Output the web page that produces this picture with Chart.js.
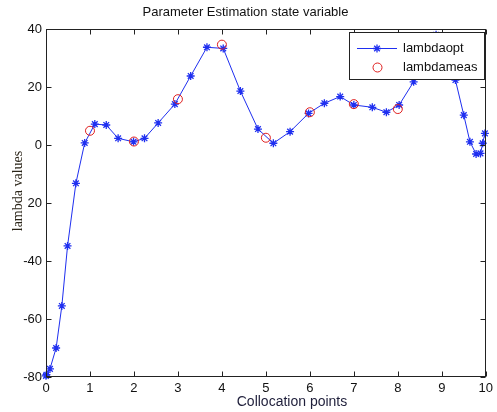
<!DOCTYPE html>
<html>
<head>
<meta charset="utf-8">
<script src="https://cdn.jsdelivr.net/npm/chart.js@4"></script>
<style>
  body { margin: 0; background: #fff; }
  #wrap { width: 497px; height: 412px; }
</style>
</head>
<body>
<div id="wrap"><canvas id="chart"></canvas></div>
<script>
// collocation points and estimated lambda
const optX = [0.0, 0.01, 0.09, 0.23, 0.36, 0.49, 0.68, 0.88, 1.11, 1.37, 1.64, 1.99, 2.24, 2.55, 2.93, 3.29, 3.66, 4.03, 4.42, 4.82, 5.17, 5.55, 5.97, 6.33, 6.69, 7.0, 7.42, 7.74, 8.03, 8.36, 8.87, 9.31, 9.5, 9.64, 9.78, 9.88, 9.93, 9.98];
const optY = [-79.6, -79.2, -77.2, -70, -55.5, -34.8, -13.2, 0.7, 7.2, 6.9, 2.3, 1.1, 2.3, 7.6, 14.1, 23.8, 33.7, 33.3, 18.6, 5.5, 0.6, 4.6, 10.9, 14.4, 16.7, 13.8, 13.0, 11.3, 13.8, 21.8, 38.0, 22.4, 10.3, 1.1, -3.1, -2.9, 0.6, 4.0];

// measured lambda
const measX = [1, 2, 3, 4, 5, 6, 7, 8];
const measY = [4.9, 1.2, 15.8, 34.6, 2.5, 11.3, 14.1, 12.4];

const xTicks = [0, 1, 2, 3, 4, 5, 6, 7, 8, 9, 10];
const yTicks = [-80, -60, -40, -20, 0, 20, 40];
const yTickLabels = ["-80", "-60", "-40", "20", "0", "20", "40"];

const BLUE = "#1f2ff0";
const RED = "#e02020";
const FONT = "'Liberation Sans', Arial, sans-serif";

// white background, box, inward ticks, legend and axis titles
const matlabLook = {
  id: "matlabLook",
  beforeDraw(chart) {
    const c = chart.ctx;
    c.save();
    c.fillStyle = "#fff";
    c.fillRect(0, 0, chart.width, chart.height);
    c.restore();
  },
  afterDraw(chart) {
    const c = chart.ctx;
    const a = chart.chartArea;
    const xs = chart.scales.x, ys = chart.scales.y;
    const L = Math.round(a.left) + 0.5, R = Math.round(a.right) - 0.5;
    const T = Math.round(a.top) + 0.5, B = Math.round(a.bottom) - 0.5;
    c.save();
    c.strokeStyle = "#222";
    c.lineWidth = 1;
    c.strokeRect(L, T, R - L, B - T);
    c.beginPath();
    xTicks.forEach(v => {
      const px = Math.round(xs.getPixelForValue(v)) + 0.5;
      c.moveTo(px, B); c.lineTo(px, B - 5);
      c.moveTo(px, T); c.lineTo(px, T + 5);
    });
    yTicks.forEach(v => {
      const py = Math.round(ys.getPixelForValue(v)) + 0.5;
      c.moveTo(L, py); c.lineTo(L + 5, py);
      c.moveTo(R, py); c.lineTo(R - 5, py);
    });
    c.stroke();

    // legend
    const lx = 349.5, ly = 32.5, lw = 135, lh = 47;
    c.fillStyle = "#fff";
    c.fillRect(lx, ly, lw, lh);
    c.strokeStyle = "#222";
    c.strokeRect(lx, ly, lw, lh);
    c.strokeStyle = BLUE;
    c.beginPath();
    c.moveTo(357, 48.5); c.lineTo(397, 48.5);
    c.stroke();
    c.lineWidth = 1.3;
    Chart.helpers.drawPoint(c, { pointStyle: "star", radius: 4, borderWidth: 1.3 }, 377, 48.5);
    c.lineWidth = 1;
    c.strokeStyle = RED;
    c.beginPath();
    c.arc(377.5, 67.5, 4.5, 0, Math.PI * 2);
    c.stroke();
    c.fillStyle = "#111";
    c.font = "13px " + FONT;
    c.textBaseline = "middle";
    c.textAlign = "left";
    c.fillText(chart.data.datasets[0].label, 403, 48.5);
    c.fillText(chart.data.datasets[1].label, 403, 67.5);

    // axis titles
    c.fillStyle = "#1e1e3a";
    c.font = "14px " + FONT;
    c.textAlign = "center";
    c.fillText("Collocation points", 292, 402);
    c.save();
    c.translate(18, 191);
    c.rotate(-Math.PI / 2);
    c.fillStyle = "#2a2418";
    c.font = "14px 'Liberation Serif', 'Times New Roman', serif";
    c.fillText("lambda values", 0, 0);
    c.restore();
    c.restore();
  }
};

new Chart(document.getElementById("chart"), {
  type: "scatter",
  data: {
    datasets: [
      {
        label: "lambdaopt",
        data: optX.map((x, i) => ({ x: x, y: optY[i] })),
        showLine: true,
        borderColor: BLUE,
        backgroundColor: BLUE,
        borderWidth: 1,
        tension: 0,
        pointStyle: "star",
        pointRadius: 4,
        pointBorderWidth: 1.3,
        pointBorderColor: BLUE,
        clip: false,
        order: 2,
      },
      {
        label: "lambdameas",
        data: measX.map((x, i) => ({ x: x, y: measY[i] })),
        showLine: false,
        borderColor: RED,
        backgroundColor: "rgba(0,0,0,0)",
        pointStyle: "circle",
        pointRadius: 4.5,
        pointBorderWidth: 1,
        clip: false,
        order: 1,
      },
    ],
  },
  options: {
    responsive: true,
    maintainAspectRatio: false,
    animation: false,
    layout: { padding: { left: 0, right: 6, top: 0, bottom: 0 } },
    plugins: {
      legend: { display: false },
      tooltip: { enabled: false },
      title: {
        display: true,
        text: "Parameter Estimation state variable",
        color: "#111",
        font: { family: FONT, size: 13, weight: "normal", lineHeight: 1.2 },
        padding: { top: 4.5, bottom: 8.9 },
      },
    },
    scales: {
      x: {
        type: "linear",
        min: 0,
        max: 10,
        afterFit: (s) => { s.height = 35; },
        afterBuildTicks: (s) => { s.ticks = xTicks.map(v => ({ value: v })); },
        grid: { display: false, drawTicks: false },
        border: { display: false },
        ticks: {
          padding: 4,
          color: "#111",
          font: { family: FONT, size: 13 },
          maxRotation: 0,
          callback: (v) => String(v),
        },
      },
      y: {
        type: "linear",
        min: -80,
        max: 40,
        afterFit: (s) => { s.width = 46; },
        afterBuildTicks: (s) => { s.ticks = yTicks.map(v => ({ value: v })); },
        grid: { display: false, drawTicks: false },
        border: { display: false },
        ticks: {
          padding: 4,
          color: "#111",
          font: { family: FONT, size: 13 },
          callback: (v) => yTickLabels[yTicks.indexOf(v)],
        },
      },
    },
  },
  plugins: [matlabLook],
});
</script>
</body>
</html>
